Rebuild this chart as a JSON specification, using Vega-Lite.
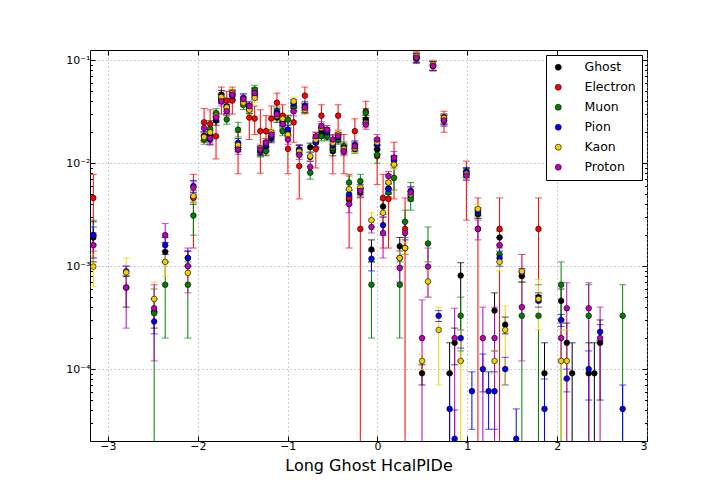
{
  "$schema": "https://vega.github.io/schema/vega-lite/v6.json",
  "width": 557,
  "height": 391,
  "autosize": "none",
  "padding": {"left": 90, "top": 50, "right": 73, "bottom": 63},
  "background": "white",
  "config": {
    "font": "DejaVu Sans",
    "view": {"stroke": "black", "strokeWidth": 1}
  },
  "data": {
    "values": [
      {"x": -3.163, "p": "Ghost", "y": 0.0019, "lo": 0.0011, "hi": 0.0027},
      {"x": -3.163, "p": "Electron", "y": 0.0046, "lo": 0.0014, "hi": 0.0078},
      {"x": -3.163, "p": "Muon", "y": 0.002, "lo": 0.0012, "hi": 0.0028},
      {"x": -3.163, "p": "Pion", "y": 0.002, "lo": 0.0016, "hi": 0.0024},
      {"x": -3.163, "p": "Kaon", "y": 0.00099, "lo": 0.00063, "hi": 0.0013},
      {"x": -3.163, "p": "Proton", "y": 0.0016, "lo": 0.0012, "hi": 0.0021},
      {"x": -2.797, "p": "Ghost", "y": 0.00062, "lo": 0.0004, "hi": 0.0008},
      {"x": -2.797, "p": "Pion", "y": 0.00089, "lo": 0.0008, "hi": 0.001},
      {"x": -2.797, "p": "Kaon", "y": 0.00087, "lo": 0.0006, "hi": 0.0012},
      {"x": -2.797, "p": "Proton", "y": 0.00062, "lo": 0.00025, "hi": 0.001},
      {"x": -2.486, "p": "Ghost", "y": 0.00036, "lo": 0.00025, "hi": 0.00048},
      {"x": -2.486, "p": "Muon", "y": 0.00035, "lo": 0.000001, "hi": 0.0006},
      {"x": -2.486, "p": "Pion", "y": 0.00029, "lo": 0.00022, "hi": 0.00036},
      {"x": -2.486, "p": "Kaon", "y": 0.00048, "lo": 0.00033, "hi": 0.0007},
      {"x": -2.486, "p": "Proton", "y": 0.00039, "lo": 0.00012, "hi": 0.00066},
      {"x": -2.363, "p": "Ghost", "y": 0.00138, "lo": 0.0011, "hi": 0.0017},
      {"x": -2.363, "p": "Muon", "y": 0.00066, "lo": 0.0002, "hi": 0.0011},
      {"x": -2.363, "p": "Pion", "y": 0.0016, "lo": 0.0013, "hi": 0.0019},
      {"x": -2.363, "p": "Kaon", "y": 0.0011, "lo": 0.0008, "hi": 0.0014},
      {"x": -2.363, "p": "Proton", "y": 0.002, "lo": 0.0014, "hi": 0.0026},
      {"x": -2.111, "p": "Ghost", "y": 0.0012, "lo": 0.001, "hi": 0.0014},
      {"x": -2.111, "p": "Muon", "y": 0.00066, "lo": 0.0002, "hi": 0.0011},
      {"x": -2.111, "p": "Pion", "y": 0.0012, "lo": 0.001, "hi": 0.0014},
      {"x": -2.111, "p": "Kaon", "y": 0.00086, "lo": 0.0007, "hi": 0.001},
      {"x": -2.111, "p": "Proton", "y": 0.001, "lo": 0.00055, "hi": 0.0015},
      {"x": -2.049, "p": "Ghost", "y": 0.0047, "lo": 0.004, "hi": 0.0054},
      {"x": -2.049, "p": "Electron", "y": 0.0046, "lo": 0.0015, "hi": 0.0078},
      {"x": -2.049, "p": "Muon", "y": 0.0031, "lo": 0.002, "hi": 0.0042},
      {"x": -2.049, "p": "Pion", "y": 0.006, "lo": 0.0052, "hi": 0.0068},
      {"x": -2.049, "p": "Kaon", "y": 0.0048, "lo": 0.0041, "hi": 0.0055},
      {"x": -2.049, "p": "Proton", "y": 0.0058, "lo": 0.005, "hi": 0.0066},
      {"x": -1.93, "p": "Ghost", "y": 0.0182, "lo": 0.0164, "hi": 0.02},
      {"x": -1.93, "p": "Electron", "y": 0.025, "lo": 0.016, "hi": 0.034},
      {"x": -1.93, "p": "Muon", "y": 0.017, "lo": 0.0153, "hi": 0.0187},
      {"x": -1.93, "p": "Pion", "y": 0.0185, "lo": 0.0167, "hi": 0.0204},
      {"x": -1.93, "p": "Kaon", "y": 0.018, "lo": 0.0162, "hi": 0.0198},
      {"x": -1.93, "p": "Proton", "y": 0.022, "lo": 0.0198, "hi": 0.0242},
      {"x": -1.863, "p": "Ghost", "y": 0.019, "lo": 0.0171, "hi": 0.0209},
      {"x": -1.863, "p": "Electron", "y": 0.024, "lo": 0.015, "hi": 0.033},
      {"x": -1.863, "p": "Muon", "y": 0.0216, "lo": 0.018, "hi": 0.026},
      {"x": -1.863, "p": "Pion", "y": 0.017, "lo": 0.0153, "hi": 0.0187},
      {"x": -1.863, "p": "Kaon", "y": 0.02, "lo": 0.018, "hi": 0.022},
      {"x": -1.863, "p": "Proton", "y": 0.0175, "lo": 0.0158, "hi": 0.0193},
      {"x": -1.797, "p": "Ghost", "y": 0.026, "lo": 0.0234, "hi": 0.0286},
      {"x": -1.797, "p": "Electron", "y": 0.0183, "lo": 0.011, "hi": 0.026},
      {"x": -1.797, "p": "Muon", "y": 0.0308, "lo": 0.0277, "hi": 0.0339},
      {"x": -1.797, "p": "Pion", "y": 0.0275, "lo": 0.0248, "hi": 0.0303},
      {"x": -1.797, "p": "Kaon", "y": 0.029, "lo": 0.0261, "hi": 0.0319},
      {"x": -1.797, "p": "Proton", "y": 0.028, "lo": 0.0252, "hi": 0.0308},
      {"x": -1.738, "p": "Ghost", "y": 0.0464, "lo": 0.0418, "hi": 0.051},
      {"x": -1.738, "p": "Electron", "y": 0.04, "lo": 0.03, "hi": 0.055},
      {"x": -1.738, "p": "Muon", "y": 0.043, "lo": 0.0387, "hi": 0.0473},
      {"x": -1.738, "p": "Pion", "y": 0.042, "lo": 0.0378, "hi": 0.0462},
      {"x": -1.738, "p": "Kaon", "y": 0.044, "lo": 0.0396, "hi": 0.0484},
      {"x": -1.738, "p": "Proton", "y": 0.04, "lo": 0.036, "hi": 0.044},
      {"x": -1.678, "p": "Ghost", "y": 0.0357, "lo": 0.0321, "hi": 0.0393},
      {"x": -1.678, "p": "Electron", "y": 0.0406, "lo": 0.03, "hi": 0.05},
      {"x": -1.678, "p": "Muon", "y": 0.0266, "lo": 0.0239, "hi": 0.0293},
      {"x": -1.678, "p": "Pion", "y": 0.034, "lo": 0.0306, "hi": 0.0374},
      {"x": -1.678, "p": "Kaon", "y": 0.035, "lo": 0.0315, "hi": 0.0385},
      {"x": -1.678, "p": "Proton", "y": 0.032, "lo": 0.0288, "hi": 0.0352},
      {"x": -1.616, "p": "Ghost", "y": 0.047, "lo": 0.0423, "hi": 0.0517},
      {"x": -1.616, "p": "Electron", "y": 0.0406, "lo": 0.03, "hi": 0.055},
      {"x": -1.616, "p": "Muon", "y": 0.046, "lo": 0.0414, "hi": 0.0506},
      {"x": -1.616, "p": "Pion", "y": 0.045, "lo": 0.0405, "hi": 0.0495},
      {"x": -1.616, "p": "Kaon", "y": 0.048, "lo": 0.0432, "hi": 0.0528},
      {"x": -1.616, "p": "Proton", "y": 0.0464, "lo": 0.0418, "hi": 0.051},
      {"x": -1.552, "p": "Ghost", "y": 0.0143, "lo": 0.0129, "hi": 0.0157},
      {"x": -1.552, "p": "Electron", "y": 0.0136, "lo": 0.0079, "hi": 0.02},
      {"x": -1.552, "p": "Muon", "y": 0.0212, "lo": 0.018, "hi": 0.025},
      {"x": -1.552, "p": "Pion", "y": 0.0158, "lo": 0.0142, "hi": 0.0174},
      {"x": -1.552, "p": "Kaon", "y": 0.015, "lo": 0.0135, "hi": 0.0165},
      {"x": -1.552, "p": "Proton", "y": 0.0136, "lo": 0.0122, "hi": 0.015},
      {"x": -1.493, "p": "Ghost", "y": 0.04, "lo": 0.036, "hi": 0.044},
      {"x": -1.493, "p": "Muon", "y": 0.037, "lo": 0.0333, "hi": 0.0407},
      {"x": -1.493, "p": "Pion", "y": 0.0431, "lo": 0.0388, "hi": 0.0474},
      {"x": -1.493, "p": "Kaon", "y": 0.0388, "lo": 0.0349, "hi": 0.0427},
      {"x": -1.493, "p": "Proton", "y": 0.042, "lo": 0.0378, "hi": 0.0462},
      {"x": -1.427, "p": "Ghost", "y": 0.034, "lo": 0.0306, "hi": 0.0374},
      {"x": -1.427, "p": "Electron", "y": 0.0278, "lo": 0.017, "hi": 0.038},
      {"x": -1.427, "p": "Muon", "y": 0.034, "lo": 0.0306, "hi": 0.0374},
      {"x": -1.427, "p": "Pion", "y": 0.0357, "lo": 0.0321, "hi": 0.0393},
      {"x": -1.427, "p": "Kaon", "y": 0.033, "lo": 0.0297, "hi": 0.0363},
      {"x": -1.427, "p": "Proton", "y": 0.036, "lo": 0.0324, "hi": 0.0396},
      {"x": -1.367, "p": "Ghost", "y": 0.049, "lo": 0.0441, "hi": 0.0539},
      {"x": -1.367, "p": "Electron", "y": 0.0272, "lo": 0.019, "hi": 0.036},
      {"x": -1.367, "p": "Muon", "y": 0.052, "lo": 0.0468, "hi": 0.0572},
      {"x": -1.367, "p": "Pion", "y": 0.046, "lo": 0.0414, "hi": 0.0506},
      {"x": -1.367, "p": "Kaon", "y": 0.0431, "lo": 0.0388, "hi": 0.0474},
      {"x": -1.367, "p": "Proton", "y": 0.0482, "lo": 0.0434, "hi": 0.053},
      {"x": -1.304, "p": "Ghost", "y": 0.0131, "lo": 0.0118, "hi": 0.0144},
      {"x": -1.304, "p": "Electron", "y": 0.0205, "lo": 0.008, "hi": 0.033},
      {"x": -1.304, "p": "Muon", "y": 0.0128, "lo": 0.0115, "hi": 0.0141},
      {"x": -1.304, "p": "Pion", "y": 0.0133, "lo": 0.012, "hi": 0.0146},
      {"x": -1.304, "p": "Kaon", "y": 0.014, "lo": 0.0126, "hi": 0.0154},
      {"x": -1.304, "p": "Proton", "y": 0.0136, "lo": 0.0122, "hi": 0.015},
      {"x": -1.241, "p": "Ghost", "y": 0.0145, "lo": 0.0131, "hi": 0.016},
      {"x": -1.241, "p": "Electron", "y": 0.0205, "lo": 0.012, "hi": 0.029},
      {"x": -1.241, "p": "Muon", "y": 0.0131, "lo": 0.0118, "hi": 0.0144},
      {"x": -1.241, "p": "Pion", "y": 0.015, "lo": 0.0135, "hi": 0.0165},
      {"x": -1.241, "p": "Kaon", "y": 0.016, "lo": 0.0144, "hi": 0.0176},
      {"x": -1.241, "p": "Proton", "y": 0.0158, "lo": 0.0142, "hi": 0.0174},
      {"x": -1.182, "p": "Ghost", "y": 0.0175, "lo": 0.0158, "hi": 0.0193},
      {"x": -1.182, "p": "Electron", "y": 0.0272, "lo": 0.019, "hi": 0.036},
      {"x": -1.182, "p": "Muon", "y": 0.0182, "lo": 0.0164, "hi": 0.02},
      {"x": -1.182, "p": "Pion", "y": 0.0182, "lo": 0.0164, "hi": 0.02},
      {"x": -1.182, "p": "Kaon", "y": 0.02, "lo": 0.018, "hi": 0.022},
      {"x": -1.182, "p": "Proton", "y": 0.019, "lo": 0.0171, "hi": 0.0209},
      {"x": -1.119, "p": "Ghost", "y": 0.0278, "lo": 0.025, "hi": 0.0306},
      {"x": -1.119, "p": "Electron", "y": 0.0388, "lo": 0.03, "hi": 0.048},
      {"x": -1.119, "p": "Muon", "y": 0.032, "lo": 0.0288, "hi": 0.0352},
      {"x": -1.119, "p": "Pion", "y": 0.031, "lo": 0.0279, "hi": 0.0341},
      {"x": -1.119, "p": "Kaon", "y": 0.029, "lo": 0.0261, "hi": 0.0319},
      {"x": -1.119, "p": "Proton", "y": 0.03, "lo": 0.027, "hi": 0.033},
      {"x": -1.056, "p": "Ghost", "y": 0.026, "lo": 0.0234, "hi": 0.0286},
      {"x": -1.056, "p": "Electron", "y": 0.029, "lo": 0.021, "hi": 0.037},
      {"x": -1.056, "p": "Muon", "y": 0.0205, "lo": 0.0185, "hi": 0.0226},
      {"x": -1.056, "p": "Pion", "y": 0.025, "lo": 0.0225, "hi": 0.0275},
      {"x": -1.056, "p": "Kaon", "y": 0.027, "lo": 0.0243, "hi": 0.0297},
      {"x": -1.056, "p": "Proton", "y": 0.024, "lo": 0.0216, "hi": 0.0264},
      {"x": -0.997, "p": "Ghost", "y": 0.02, "lo": 0.018, "hi": 0.022},
      {"x": -0.997, "p": "Electron", "y": 0.0138, "lo": 0.0079, "hi": 0.029},
      {"x": -0.997, "p": "Muon", "y": 0.0266, "lo": 0.0239, "hi": 0.0293},
      {"x": -0.997, "p": "Pion", "y": 0.0212, "lo": 0.0191, "hi": 0.0233},
      {"x": -0.997, "p": "Kaon", "y": 0.019, "lo": 0.0171, "hi": 0.0209},
      {"x": -0.997, "p": "Proton", "y": 0.017, "lo": 0.0153, "hi": 0.0187},
      {"x": -0.933, "p": "Ghost", "y": 0.036, "lo": 0.0324, "hi": 0.0396},
      {"x": -0.933, "p": "Electron", "y": 0.025, "lo": 0.016, "hi": 0.036},
      {"x": -0.933, "p": "Muon", "y": 0.035, "lo": 0.0315, "hi": 0.0385},
      {"x": -0.933, "p": "Pion", "y": 0.038, "lo": 0.0342, "hi": 0.0418},
      {"x": -0.933, "p": "Kaon", "y": 0.04, "lo": 0.036, "hi": 0.044},
      {"x": -0.933, "p": "Proton", "y": 0.032, "lo": 0.0288, "hi": 0.0352},
      {"x": -0.871, "p": "Ghost", "y": 0.0136, "lo": 0.0122, "hi": 0.015},
      {"x": -0.871, "p": "Electron", "y": 0.0094, "lo": 0.0045, "hi": 0.015},
      {"x": -0.871, "p": "Muon", "y": 0.0128, "lo": 0.0115, "hi": 0.0141},
      {"x": -0.871, "p": "Pion", "y": 0.0136, "lo": 0.0122, "hi": 0.015},
      {"x": -0.871, "p": "Kaon", "y": 0.013, "lo": 0.0117, "hi": 0.0143},
      {"x": -0.871, "p": "Proton", "y": 0.0121, "lo": 0.0109, "hi": 0.0133},
      {"x": -0.808, "p": "Ghost", "y": 0.034, "lo": 0.0306, "hi": 0.0374},
      {"x": -0.808, "p": "Electron", "y": 0.0454, "lo": 0.035, "hi": 0.055},
      {"x": -0.808, "p": "Muon", "y": 0.0347, "lo": 0.0312, "hi": 0.0382},
      {"x": -0.808, "p": "Pion", "y": 0.036, "lo": 0.0324, "hi": 0.0396},
      {"x": -0.808, "p": "Kaon", "y": 0.033, "lo": 0.0297, "hi": 0.0363},
      {"x": -0.808, "p": "Proton", "y": 0.0347, "lo": 0.0312, "hi": 0.0382},
      {"x": -0.749, "p": "Ghost", "y": 0.0143, "lo": 0.0129, "hi": 0.0157},
      {"x": -0.749, "p": "Muon", "y": 0.0081, "lo": 0.007, "hi": 0.0093},
      {"x": -0.749, "p": "Pion", "y": 0.0115, "lo": 0.0104, "hi": 0.0127},
      {"x": -0.749, "p": "Kaon", "y": 0.0117, "lo": 0.0105, "hi": 0.0129},
      {"x": -0.749, "p": "Proton", "y": 0.0092, "lo": 0.008, "hi": 0.0105},
      {"x": -0.686, "p": "Ghost", "y": 0.016, "lo": 0.0144, "hi": 0.0176},
      {"x": -0.686, "p": "Electron", "y": 0.0138, "lo": 0.009, "hi": 0.019},
      {"x": -0.686, "p": "Muon", "y": 0.018, "lo": 0.0162, "hi": 0.0198},
      {"x": -0.686, "p": "Pion", "y": 0.0158, "lo": 0.0142, "hi": 0.0174},
      {"x": -0.686, "p": "Kaon", "y": 0.017, "lo": 0.0153, "hi": 0.0187},
      {"x": -0.686, "p": "Proton", "y": 0.0183, "lo": 0.0165, "hi": 0.0201},
      {"x": -0.624, "p": "Ghost", "y": 0.0197, "lo": 0.0177, "hi": 0.0217},
      {"x": -0.624, "p": "Electron", "y": 0.029, "lo": 0.021, "hi": 0.037},
      {"x": -0.624, "p": "Muon", "y": 0.0183, "lo": 0.0165, "hi": 0.0201},
      {"x": -0.624, "p": "Pion", "y": 0.0221, "lo": 0.0199, "hi": 0.0243},
      {"x": -0.624, "p": "Kaon", "y": 0.0221, "lo": 0.0199, "hi": 0.0243},
      {"x": -0.624, "p": "Proton", "y": 0.023, "lo": 0.0207, "hi": 0.0253},
      {"x": -0.561, "p": "Ghost", "y": 0.019, "lo": 0.0171, "hi": 0.0209},
      {"x": -0.561, "p": "Muon", "y": 0.0183, "lo": 0.0165, "hi": 0.0201},
      {"x": -0.561, "p": "Pion", "y": 0.02, "lo": 0.018, "hi": 0.022},
      {"x": -0.561, "p": "Kaon", "y": 0.021, "lo": 0.0189, "hi": 0.0231},
      {"x": -0.561, "p": "Proton", "y": 0.0212, "lo": 0.0191, "hi": 0.0233},
      {"x": -0.497, "p": "Ghost", "y": 0.0131, "lo": 0.0118, "hi": 0.0144},
      {"x": -0.497, "p": "Electron", "y": 0.0136, "lo": 0.0079, "hi": 0.019},
      {"x": -0.497, "p": "Muon", "y": 0.014, "lo": 0.0126, "hi": 0.0154},
      {"x": -0.497, "p": "Pion", "y": 0.015, "lo": 0.0135, "hi": 0.0165},
      {"x": -0.497, "p": "Kaon", "y": 0.0158, "lo": 0.0142, "hi": 0.0174},
      {"x": -0.497, "p": "Proton", "y": 0.017, "lo": 0.0153, "hi": 0.0187},
      {"x": -0.438, "p": "Ghost", "y": 0.0175, "lo": 0.0158, "hi": 0.0193},
      {"x": -0.438, "p": "Electron", "y": 0.029, "lo": 0.021, "hi": 0.037},
      {"x": -0.438, "p": "Muon", "y": 0.017, "lo": 0.0153, "hi": 0.0187},
      {"x": -0.438, "p": "Pion", "y": 0.018, "lo": 0.0162, "hi": 0.0198},
      {"x": -0.438, "p": "Kaon", "y": 0.019, "lo": 0.0171, "hi": 0.0209},
      {"x": -0.438, "p": "Proton", "y": 0.0183, "lo": 0.0165, "hi": 0.0201},
      {"x": -0.374, "p": "Ghost", "y": 0.0135, "lo": 0.0122, "hi": 0.0149},
      {"x": -0.374, "p": "Electron", "y": 0.0131, "lo": 0.0079, "hi": 0.019},
      {"x": -0.374, "p": "Muon", "y": 0.0146, "lo": 0.0131, "hi": 0.0161},
      {"x": -0.374, "p": "Pion", "y": 0.014, "lo": 0.0126, "hi": 0.0154},
      {"x": -0.374, "p": "Kaon", "y": 0.0138, "lo": 0.0124, "hi": 0.0152},
      {"x": -0.374, "p": "Proton", "y": 0.0131, "lo": 0.0118, "hi": 0.0144},
      {"x": -0.316, "p": "Ghost", "y": 0.0044, "lo": 0.004, "hi": 0.0048},
      {"x": -0.316, "p": "Electron", "y": 0.0046, "lo": 0.0015, "hi": 0.0078},
      {"x": -0.316, "p": "Muon", "y": 0.0065, "lo": 0.0055, "hi": 0.0075},
      {"x": -0.316, "p": "Pion", "y": 0.005, "lo": 0.0045, "hi": 0.0055},
      {"x": -0.316, "p": "Kaon", "y": 0.0056, "lo": 0.005, "hi": 0.0062},
      {"x": -0.316, "p": "Proton", "y": 0.004, "lo": 0.0033, "hi": 0.0047},
      {"x": -0.252, "p": "Ghost", "y": 0.0143, "lo": 0.0129, "hi": 0.0157},
      {"x": -0.252, "p": "Electron", "y": 0.0205, "lo": 0.014, "hi": 0.027},
      {"x": -0.252, "p": "Muon", "y": 0.0138, "lo": 0.0124, "hi": 0.0152},
      {"x": -0.252, "p": "Pion", "y": 0.015, "lo": 0.0135, "hi": 0.0165},
      {"x": -0.252, "p": "Kaon", "y": 0.014, "lo": 0.0126, "hi": 0.0154},
      {"x": -0.252, "p": "Proton", "y": 0.0146, "lo": 0.0131, "hi": 0.0161},
      {"x": -0.191, "p": "Ghost", "y": 0.0052, "lo": 0.0047, "hi": 0.0057},
      {"x": -0.191, "p": "Electron", "y": 0.0023, "lo": 0.000001, "hi": 0.0046},
      {"x": -0.191, "p": "Muon", "y": 0.0067, "lo": 0.0057, "hi": 0.0078},
      {"x": -0.191, "p": "Pion", "y": 0.0056, "lo": 0.005, "hi": 0.0062},
      {"x": -0.191, "p": "Kaon", "y": 0.0058, "lo": 0.0052, "hi": 0.0064},
      {"x": -0.191, "p": "Proton", "y": 0.0054, "lo": 0.0049, "hi": 0.0059},
      {"x": -0.13, "p": "Ghost", "y": 0.0266, "lo": 0.0239, "hi": 0.0293},
      {"x": -0.13, "p": "Electron", "y": 0.032, "lo": 0.025, "hi": 0.04},
      {"x": -0.13, "p": "Muon", "y": 0.031, "lo": 0.0279, "hi": 0.0341},
      {"x": -0.13, "p": "Pion", "y": 0.025, "lo": 0.0225, "hi": 0.0275},
      {"x": -0.13, "p": "Kaon", "y": 0.0245, "lo": 0.022, "hi": 0.027},
      {"x": -0.13, "p": "Proton", "y": 0.0238, "lo": 0.0214, "hi": 0.0262},
      {"x": -0.067, "p": "Ghost", "y": 0.00145, "lo": 0.0011, "hi": 0.0018},
      {"x": -0.067, "p": "Muon", "y": 0.00066, "lo": 0.0002, "hi": 0.0011},
      {"x": -0.067, "p": "Pion", "y": 0.00118, "lo": 0.0009, "hi": 0.0014},
      {"x": -0.067, "p": "Kaon", "y": 0.0028, "lo": 0.0024, "hi": 0.0033},
      {"x": -0.067, "p": "Proton", "y": 0.0024, "lo": 0.0021, "hi": 0.0028},
      {"x": -0.004, "p": "Ghost", "y": 0.0136, "lo": 0.0122, "hi": 0.015},
      {"x": -0.004, "p": "Electron", "y": 0.0117, "lo": 0.0062, "hi": 0.0173},
      {"x": -0.004, "p": "Muon", "y": 0.0121, "lo": 0.01, "hi": 0.014},
      {"x": -0.004, "p": "Pion", "y": 0.015, "lo": 0.0135, "hi": 0.0165},
      {"x": -0.004, "p": "Kaon", "y": 0.016, "lo": 0.0144, "hi": 0.0176},
      {"x": -0.004, "p": "Proton", "y": 0.017, "lo": 0.015, "hi": 0.019},
      {"x": 0.062, "p": "Ghost", "y": 0.0038, "lo": 0.0032, "hi": 0.0044},
      {"x": 0.062, "p": "Electron", "y": 0.0046, "lo": 0.0015, "hi": 0.0078},
      {"x": 0.062, "p": "Pion", "y": 0.0025, "lo": 0.002, "hi": 0.003},
      {"x": 0.062, "p": "Kaon", "y": 0.0033, "lo": 0.0028, "hi": 0.0038},
      {"x": 0.062, "p": "Proton", "y": 0.0021, "lo": 0.0012, "hi": 0.003},
      {"x": 0.122, "p": "Ghost", "y": 0.0057, "lo": 0.0051, "hi": 0.0063},
      {"x": 0.122, "p": "Electron", "y": 0.0045, "lo": 0.0015, "hi": 0.0078},
      {"x": 0.122, "p": "Muon", "y": 0.0052, "lo": 0.0047, "hi": 0.0057},
      {"x": 0.122, "p": "Pion", "y": 0.0056, "lo": 0.005, "hi": 0.0064},
      {"x": 0.122, "p": "Kaon", "y": 0.0065, "lo": 0.0058, "hi": 0.0072},
      {"x": 0.122, "p": "Proton", "y": 0.0075, "lo": 0.0067, "hi": 0.0083},
      {"x": 0.184, "p": "Ghost", "y": 0.0108, "lo": 0.0097, "hi": 0.0119},
      {"x": 0.184, "p": "Electron", "y": 0.0113, "lo": 0.0045, "hi": 0.016},
      {"x": 0.184, "p": "Muon", "y": 0.0072, "lo": 0.0055, "hi": 0.009},
      {"x": 0.184, "p": "Pion", "y": 0.0105, "lo": 0.0095, "hi": 0.0116},
      {"x": 0.184, "p": "Kaon", "y": 0.0097, "lo": 0.0087, "hi": 0.0107},
      {"x": 0.184, "p": "Proton", "y": 0.0113, "lo": 0.0097, "hi": 0.013},
      {"x": 0.248, "p": "Ghost", "y": 0.00156, "lo": 0.0012, "hi": 0.0019},
      {"x": 0.248, "p": "Muon", "y": 0.00066, "lo": 0.0002, "hi": 0.0011},
      {"x": 0.248, "p": "Pion", "y": 0.0012, "lo": 0.001, "hi": 0.0014},
      {"x": 0.248, "p": "Kaon", "y": 0.0012, "lo": 0.001, "hi": 0.0014},
      {"x": 0.248, "p": "Proton", "y": 0.00096, "lo": 0.0007, "hi": 0.0012},
      {"x": 0.307, "p": "Ghost", "y": 0.0015, "lo": 0.0013, "hi": 0.0018},
      {"x": 0.307, "p": "Electron", "y": 0.0023, "lo": 0.000001, "hi": 0.0046},
      {"x": 0.307, "p": "Muon", "y": 0.0027, "lo": 0.0019, "hi": 0.0035},
      {"x": 0.307, "p": "Kaon", "y": 0.0015, "lo": 0.0013, "hi": 0.0017},
      {"x": 0.307, "p": "Proton", "y": 0.0021, "lo": 0.0015, "hi": 0.0027},
      {"x": 0.37, "p": "Ghost", "y": 0.0048, "lo": 0.0043, "hi": 0.0053},
      {"x": 0.37, "p": "Muon", "y": 0.0045, "lo": 0.0035, "hi": 0.0065},
      {"x": 0.37, "p": "Pion", "y": 0.0054, "lo": 0.0049, "hi": 0.0059},
      {"x": 0.37, "p": "Kaon", "y": 0.005, "lo": 0.0045, "hi": 0.0055},
      {"x": 0.37, "p": "Proton", "y": 0.0052, "lo": 0.0045, "hi": 0.0059},
      {"x": 0.433, "p": "Ghost", "y": 0.107, "lo": 0.096, "hi": 0.118},
      {"x": 0.433, "p": "Electron", "y": 0.109, "lo": 0.095, "hi": 0.122},
      {"x": 0.433, "p": "Muon", "y": 0.103, "lo": 0.093, "hi": 0.113},
      {"x": 0.433, "p": "Pion", "y": 0.105, "lo": 0.095, "hi": 0.116},
      {"x": 0.433, "p": "Kaon", "y": 0.11, "lo": 0.099, "hi": 0.121},
      {"x": 0.433, "p": "Proton", "y": 0.106, "lo": 0.095, "hi": 0.117},
      {"x": 0.496, "p": "Ghost", "y": 0.000091, "lo": 0.00007, "hi": 0.00011},
      {"x": 0.496, "p": "Kaon", "y": 0.00012, "lo": 0.0001, "hi": 0.00014},
      {"x": 0.496, "p": "Proton", "y": 0.0002, "lo": 0.000001, "hi": 0.00047},
      {"x": 0.562, "p": "Muon", "y": 0.00166, "lo": 0.0011, "hi": 0.0024},
      {"x": 0.562, "p": "Kaon", "y": 0.00071, "lo": 0.0005, "hi": 0.0009},
      {"x": 0.562, "p": "Proton", "y": 0.00099, "lo": 0.0005, "hi": 0.0015},
      {"x": 0.618, "p": "Ghost", "y": 0.089, "lo": 0.08, "hi": 0.098},
      {"x": 0.618, "p": "Electron", "y": 0.09, "lo": 0.08, "hi": 0.1},
      {"x": 0.618, "p": "Muon", "y": 0.088, "lo": 0.079, "hi": 0.097},
      {"x": 0.618, "p": "Pion", "y": 0.089, "lo": 0.08, "hi": 0.098},
      {"x": 0.618, "p": "Kaon", "y": 0.091, "lo": 0.082, "hi": 0.1},
      {"x": 0.618, "p": "Proton", "y": 0.088, "lo": 0.079, "hi": 0.097},
      {"x": 0.681, "p": "Pion", "y": 0.00033, "lo": 0.00029, "hi": 0.00037},
      {"x": 0.681, "p": "Kaon", "y": 0.00024, "lo": 0.00007, "hi": 0.0004},
      {"x": 0.74, "p": "Ghost", "y": 0.027, "lo": 0.024, "hi": 0.03},
      {"x": 0.74, "p": "Electron", "y": 0.028, "lo": 0.02, "hi": 0.032},
      {"x": 0.74, "p": "Muon", "y": 0.026, "lo": 0.023, "hi": 0.029},
      {"x": 0.74, "p": "Pion", "y": 0.027, "lo": 0.024, "hi": 0.03},
      {"x": 0.74, "p": "Kaon", "y": 0.0275, "lo": 0.025, "hi": 0.03},
      {"x": 0.74, "p": "Proton", "y": 0.026, "lo": 0.023, "hi": 0.029},
      {"x": 0.803, "p": "Ghost", "y": 0.000091, "lo": 0.000001, "hi": 0.00018},
      {"x": 0.803, "p": "Pion", "y": 0.000041, "lo": 0.000001, "hi": 0.00009},
      {"x": 0.859, "p": "Ghost", "y": 0.00018, "lo": 0.00011, "hi": 0.00025},
      {"x": 0.859, "p": "Pion", "y": 0.000021, "lo": 0.000001, "hi": 0.00004},
      {"x": 0.859, "p": "Proton", "y": 0.0002, "lo": 0.000001, "hi": 0.00039},
      {"x": 0.926, "p": "Ghost", "y": 0.00081, "lo": 0.00012, "hi": 0.00108},
      {"x": 0.926, "p": "Muon", "y": 0.00033, "lo": 0.00015, "hi": 0.0005},
      {"x": 0.926, "p": "Pion", "y": 0.0002, "lo": 0.00016, "hi": 0.00024},
      {"x": 0.926, "p": "Kaon", "y": 0.00012, "lo": 0.000001, "hi": 0.00024},
      {"x": 0.989, "p": "Ghost", "y": 0.0081, "lo": 0.0073, "hi": 0.0089},
      {"x": 0.989, "p": "Electron", "y": 0.0081, "lo": 0.0028, "hi": 0.0105},
      {"x": 0.989, "p": "Muon", "y": 0.0078, "lo": 0.007, "hi": 0.0086},
      {"x": 0.989, "p": "Pion", "y": 0.0083, "lo": 0.0075, "hi": 0.0091},
      {"x": 0.989, "p": "Kaon", "y": 0.0079, "lo": 0.0071, "hi": 0.0087},
      {"x": 0.989, "p": "Proton", "y": 0.0076, "lo": 0.0068, "hi": 0.0084},
      {"x": 1.051, "p": "Pion", "y": 0.000061, "lo": 0.000026, "hi": 0.000094},
      {"x": 1.118, "p": "Ghost", "y": 0.0032, "lo": 0.0029, "hi": 0.0035},
      {"x": 1.118, "p": "Electron", "y": 0.0023, "lo": 0.000001, "hi": 0.0046},
      {"x": 1.118, "p": "Muon", "y": 0.0033, "lo": 0.003, "hi": 0.0036},
      {"x": 1.118, "p": "Pion", "y": 0.0034, "lo": 0.0031, "hi": 0.0037},
      {"x": 1.118, "p": "Kaon", "y": 0.0036, "lo": 0.0032, "hi": 0.004},
      {"x": 1.118, "p": "Proton", "y": 0.0023, "lo": 0.0018, "hi": 0.0028},
      {"x": 1.173, "p": "Pion", "y": 0.0001, "lo": 0.00006, "hi": 0.00014},
      {"x": 1.173, "p": "Proton", "y": 0.0002, "lo": 0.000001, "hi": 0.0004},
      {"x": 1.237, "p": "Pion", "y": 0.000061, "lo": 0.000026, "hi": 0.000094},
      {"x": 1.303, "p": "Ghost", "y": 0.00037, "lo": 0.00015, "hi": 0.00055},
      {"x": 1.303, "p": "Pion", "y": 0.000061, "lo": 0.000026, "hi": 0.000094},
      {"x": 1.303, "p": "Kaon", "y": 0.00012, "lo": 0.00009, "hi": 0.00015},
      {"x": 1.303, "p": "Proton", "y": 0.0002, "lo": 0.000001, "hi": 0.0004},
      {"x": 1.359, "p": "Ghost", "y": 0.0019, "lo": 0.0016, "hi": 0.0022},
      {"x": 1.359, "p": "Electron", "y": 0.0023, "lo": 0.000001, "hi": 0.0046},
      {"x": 1.359, "p": "Muon", "y": 0.0013, "lo": 0.0011, "hi": 0.0015},
      {"x": 1.359, "p": "Pion", "y": 0.0012, "lo": 0.001, "hi": 0.0014},
      {"x": 1.359, "p": "Kaon", "y": 0.0011, "lo": 0.0009, "hi": 0.0013},
      {"x": 1.359, "p": "Proton", "y": 0.0016, "lo": 0.0013, "hi": 0.0019},
      {"x": 1.422, "p": "Ghost", "y": 0.00027, "lo": 0.00022, "hi": 0.00032},
      {"x": 1.422, "p": "Pion", "y": 0.0001, "lo": 0.00007, "hi": 0.00013},
      {"x": 1.422, "p": "Kaon", "y": 0.00024, "lo": 0.00007, "hi": 0.00041},
      {"x": 1.544, "p": "Pion", "y": 0.000021, "lo": 0.000001, "hi": 0.000041},
      {"x": 1.607, "p": "Ghost", "y": 0.0008, "lo": 0.0007, "hi": 0.0009},
      {"x": 1.607, "p": "Muon", "y": 0.00033, "lo": 0.000001, "hi": 0.0007},
      {"x": 1.607, "p": "Pion", "y": 0.00087, "lo": 0.0008, "hi": 0.00095},
      {"x": 1.607, "p": "Kaon", "y": 0.00089, "lo": 0.0004, "hi": 0.0013},
      {"x": 1.607, "p": "Proton", "y": 0.0004, "lo": 0.00012, "hi": 0.0013},
      {"x": 1.792, "p": "Ghost", "y": 0.0005, "lo": 0.00045, "hi": 0.00055},
      {"x": 1.792, "p": "Electron", "y": 0.0023, "lo": 0.000001, "hi": 0.0046},
      {"x": 1.792, "p": "Muon", "y": 0.00033, "lo": 0.000001, "hi": 0.00066},
      {"x": 1.792, "p": "Pion", "y": 0.00046, "lo": 0.0004, "hi": 0.00052},
      {"x": 1.792, "p": "Kaon", "y": 0.00048, "lo": 0.00024, "hi": 0.00074},
      {"x": 1.859, "p": "Ghost", "y": 0.000091, "lo": 0.000001, "hi": 0.00018},
      {"x": 1.859, "p": "Pion", "y": 0.000041, "lo": 0.000001, "hi": 0.00008},
      {"x": 2.044, "p": "Ghost", "y": 0.00046, "lo": 0.0003, "hi": 0.0006},
      {"x": 2.044, "p": "Muon", "y": 0.00066, "lo": 0.000001, "hi": 0.0011},
      {"x": 2.044, "p": "Pion", "y": 0.0003, "lo": 0.00026, "hi": 0.00034},
      {"x": 2.044, "p": "Kaon", "y": 0.00012, "lo": 0.000001, "hi": 0.00024},
      {"x": 2.044, "p": "Proton", "y": 0.0002, "lo": 0.00012, "hi": 0.00028},
      {"x": 2.107, "p": "Ghost", "y": 0.00018, "lo": 0.00008, "hi": 0.00028},
      {"x": 2.107, "p": "Pion", "y": 0.000081, "lo": 0.00006, "hi": 0.0001},
      {"x": 2.107, "p": "Kaon", "y": 0.00012, "lo": 0.000001, "hi": 0.00024},
      {"x": 2.107, "p": "Proton", "y": 0.00039, "lo": 0.000001, "hi": 0.00069},
      {"x": 2.167, "p": "Ghost", "y": 0.000091, "lo": 0.000001, "hi": 0.00018},
      {"x": 2.351, "p": "Ghost", "y": 0.000091, "lo": 0.000001, "hi": 0.00018},
      {"x": 2.351, "p": "Muon", "y": 0.00033, "lo": 0.000001, "hi": 0.00066},
      {"x": 2.351, "p": "Pion", "y": 0.0001, "lo": 0.00005, "hi": 0.00015},
      {"x": 2.351, "p": "Proton", "y": 0.00039, "lo": 0.000001, "hi": 0.00069},
      {"x": 2.414, "p": "Ghost", "y": 0.000091, "lo": 0.000001, "hi": 0.00018},
      {"x": 2.478, "p": "Ghost", "y": 0.00018, "lo": 0.00005, "hi": 0.0003},
      {"x": 2.478, "p": "Pion", "y": 0.00023, "lo": 0.00019, "hi": 0.00027},
      {"x": 2.478, "p": "Proton", "y": 0.0002, "lo": 0.000001, "hi": 0.0004},
      {"x": 2.729, "p": "Muon", "y": 0.00033, "lo": 0.000001, "hi": 0.00066},
      {"x": 2.729, "p": "Pion", "y": 0.000041, "lo": 0.000001, "hi": 0.00007}
    ]
  },
  "layer": [
    {
      "encoding": {
        "x": {
          "field": "x",
          "type": "quantitative",
          "scale": {"domain": [-3.2, 3], "nice": false, "zero": false},
          "axis": {
            "orient": "bottom",
            "title": "Long Ghost HcalPIDe",
            "titleFontSize": 16,
            "titleFontWeight": "normal",
            "titleColor": "black",
            "titlePadding": 6,
            "values": [-3, -2, -1, 0, 1, 2, 3],
            "format": "d",
            "labelFontSize": 11,
            "labelColor": "black",
            "labelPadding": 4,
            "tickSize": -5,
            "tickColor": "black",
            "domain": false,
            "grid": true,
            "gridColor": "#9a9a9a",
            "gridDash": [1, 3],
            "gridWidth": 1
          }
        }
      },
      "layer": [
        {
          "mark": {"type": "rule", "clip": true, "strokeWidth": 1},
          "encoding": {
            "y": {"field": "lo", "type": "quantitative", "axis": null},
            "y2": {"field": "hi"},
            "color": {"field": "p", "type": "nominal", "legend": null}
          }
        },
        {
          "mark": {"type": "tick", "orient": "horizontal", "clip": true, "size": 7, "thickness": 1},
          "encoding": {
            "y": {"field": "lo", "type": "quantitative", "axis": null},
            "color": {"field": "p", "type": "nominal", "legend": null}
          }
        },
        {
          "mark": {"type": "tick", "orient": "horizontal", "clip": true, "size": 7, "thickness": 1},
          "encoding": {
            "y": {"field": "hi", "type": "quantitative", "axis": null},
            "color": {"field": "p", "type": "nominal", "legend": null}
          }
        },
        {
          "mark": {"type": "point", "filled": true, "size": 32, "stroke": "black", "strokeWidth": 0.6, "opacity": 1, "clip": true},
          "encoding": {
            "y": {
              "field": "y",
              "type": "quantitative",
              "scale": {"type": "log", "domain": [0.00002, 0.126], "nice": false},
              "axis": {
                "orient": "left",
                "title": null,
                "values": [0.00002, 0.00003, 0.00004, 0.00005, 0.00006, 0.00007, 0.00008, 0.00009, 0.0001, 0.0002, 0.0003, 0.0004, 0.0005, 0.0006, 0.0007, 0.0008, 0.0009, 0.001, 0.002, 0.003, 0.004, 0.005, 0.006, 0.007, 0.008, 0.009, 0.01, 0.02, 0.03, 0.04, 0.05, 0.06, 0.07, 0.08, 0.09, 0.1],
                "labelExpr": "datum.value == 0.1 ? '10⁻¹' : datum.value == 0.01 ? '10⁻²' : datum.value == 0.001 ? '10⁻³' : datum.value == 0.0001 ? '10⁻⁴' : ''",
                "labelFontSize": 11,
                "labelColor": "black",
                "labelPadding": 5,
                "tickColor": "black",
                "tickSize": {"condition": {"test": "indexof([0.1, 0.01, 0.001, 0.0001], datum.value) >= 0", "value": -5}, "value": -2.5},
                "domain": false,
                "grid": true,
                "gridColor": "#9a9a9a",
                "gridDash": [1, 3],
                "gridOpacity": {"condition": {"test": "indexof([0.1, 0.01, 0.001, 0.0001], datum.value) >= 0", "value": 1}, "value": 0}
              }
            },
            "color": {
              "field": "p",
              "type": "nominal",
              "scale": {
                "domain": ["Ghost", "Electron", "Muon", "Pion", "Kaon", "Proton"],
                "range": ["#000000", "#ff0000", "#008000", "#0000ff", "#f2d000", "#bf00bf"]
              },
              "legend": {
                "title": null,
                "orient": "top-right",
                "offset": 5,
                "fillColor": "white",
                "strokeColor": "black",
                "padding": 6,
                "symbolType": "circle",
                "symbolSize": 36,
                "symbolStrokeColor": "black",
                "symbolStrokeWidth": 0.6,
                "labelFontSize": 12.5,
                "labelColor": "black",
                "labelOffset": 20,
                "rowPadding": 7
              }
            }
          }
        }
      ],
      "resolve": {"axis": {"y": "independent"}, "legend": {"color": "independent"}}
    },
    {
      "mark": {"type": "point", "opacity": 0},
      "encoding": {
        "x": {
          "field": "x",
          "type": "quantitative",
          "scale": {"domain": [-3.2, 3], "nice": false, "zero": false},
          "axis": {"orient": "top", "title": null, "labels": false, "values": [-3, -2, -1, 0, 1, 2, 3], "tickSize": -5, "tickColor": "black", "domain": false, "grid": false}
        },
        "y": {
          "field": "y",
          "type": "quantitative",
          "scale": {"type": "log", "domain": [0.00002, 0.126], "nice": false},
          "axis": {
            "orient": "right",
            "title": null,
            "labels": false,
            "values": [0.00002, 0.00003, 0.00004, 0.00005, 0.00006, 0.00007, 0.00008, 0.00009, 0.0001, 0.0002, 0.0003, 0.0004, 0.0005, 0.0006, 0.0007, 0.0008, 0.0009, 0.001, 0.002, 0.003, 0.004, 0.005, 0.006, 0.007, 0.008, 0.009, 0.01, 0.02, 0.03, 0.04, 0.05, 0.06, 0.07, 0.08, 0.09, 0.1],
            "tickColor": "black",
            "tickSize": {"condition": {"test": "indexof([0.1, 0.01, 0.001, 0.0001], datum.value) >= 0", "value": -5}, "value": -2.5},
            "domain": false,
            "grid": false
          }
        }
      }
    }
  ],
  "resolve": {"axis": {"x": "independent", "y": "independent"}}
}
